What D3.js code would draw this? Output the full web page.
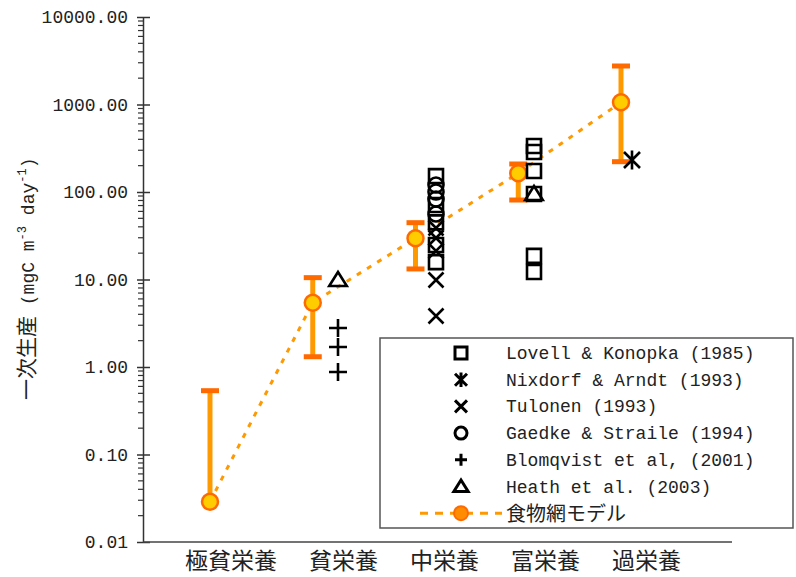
<!DOCTYPE html>
<html>
<head>
<meta charset="utf-8">
<script src="https://cdn.jsdelivr.net/npm/d3@7"></script>
<style>
  body { margin: 0; background: #fff; }
  text { font-family: "Liberation Mono", "Noto Sans CJK JP", monospace; fill: #222; }
</style>
</head>
<body>
<svg id="chart" width="796" height="577"></svg>
<script>
// Trophic categories along the x axis
const categories = ["極貧栄養", "貧栄養", "中栄養", "富栄養", "過栄養"];

// Y axis decades and their labels
const yTicks = [0.01, 0.1, 1, 10, 100, 1000, 10000];
const yTickLabels = ["0.01", "0.10", "1.00", "10.00", "100.00", "1000.00", "10000.00"];

// Food-web model: central estimate and error range per category
const modelValue = [0.0289, 5.43, 29.6, 164, 1059];
const modelLow   = [null, 1.31, 13.2, 81, 222];
const modelHigh  = [0.536, 10.5, 44.6, 209, 2754];

// Observed primary production from the literature: [category, value]
const lovell = [
  ["中栄養", 152], ["中栄養", 71], ["中栄養", 45], ["中栄養", 24.8], ["中栄養", 15.8],
  ["富栄養", 336], ["富栄養", 286], ["富栄養", 174], ["富栄養", 95], ["富栄養", 18.6], ["富栄養", 12.2]
];
const nixdorf = [["過栄養", 232]];
const tulonen = [["中栄養", 38.8], ["中栄養", 29.8], ["中栄養", 21.2], ["中栄養", 9.87], ["中栄養", 3.83]];
const gaedke = [["中栄養", 120], ["中栄養", 100], ["中栄養", 83], ["中栄養", 56]];
const blomqvist = [["貧栄養", 2.79], ["貧栄養", 1.69], ["貧栄養", 0.877]];
const heath = [["貧栄養", 9.87], ["富栄養", 95]];

const legendLabels = [
  "Lovell & Konopka (1985)",
  "Nixdorf & Arndt (1993)",
  "Tulonen (1993)",
  "Gaedke & Straile (1994)",
  "Blomqvist et al, (2001)",
  "Heath et al. (2003)",
  "食物網モデル"
];

const svg = d3.select("#chart");

const y = d3.scaleLog().domain([0.01, 10000]).range([542, 17]);
const xModel = d3.scalePoint().domain(categories).range([210, 621]);
const xObs = d3.scalePoint().domain(categories).range([240, 632]);
const xLabel = d3.scalePoint().domain(categories).range([277, 681]);
const axisX = 143;

// Marker shapes as path strings, s = half size
const shapes = {
  square: s => `M${-s},${-s}H${s}V${s}H${-s}Z`,
  times: s => `M${-s},${-s}L${s},${s}M${-s},${s}L${s},${-s}`,
  asterisk: s => `M${-s},${-s}L${s},${s}M${-s},${s}L${s},${-s}M0,${-s * 1.2}V${s * 1.2}`,
  plus: s => `M${-s},0H${s}M0,${-s}V${s}`,
  circle: s => { const p = d3.path(); p.arc(0, 0, s, 0, 2 * Math.PI); p.closePath(); return p.toString(); },
  triangle: s => `M0,${-s}L${s * 1.1},${s * 0.75}H${-s * 1.1}Z`
};

// ---- Y axis ----
const yAxis = svg.append("g").attr("transform", `translate(${axisX},0)`);
yAxis.call(d3.axisLeft(y).tickValues(yTicks).tickFormat((d, i) => yTickLabels[i])
  .tickSizeInner(6).tickSizeOuter(0).tickPadding(9));
yAxis.select(".domain").attr("stroke", "#333").attr("stroke-width", 1.5);
yAxis.selectAll(".tick line").attr("stroke", "#333").attr("stroke-width", 1.5);
yAxis.selectAll(".tick text").attr("font-size", 18)
  .style("font-family", '"Liberation Mono", monospace').attr("fill", "#222");
// major ticks also extend inward
yAxis.selectAll(".tick").append("line")
  .attr("x1", 0).attr("x2", 7).attr("stroke", "#333").attr("stroke-width", 1.5);

// minor ticks
const minor = [];
for (let e = -2; e < 4; e++) for (let m = 2; m <= 9; m++) minor.push(m * Math.pow(10, e));
svg.append("g").selectAll("line").data(minor).join("line")
  .attr("x1", axisX - 5).attr("x2", axisX)
  .attr("y1", d => y(d)).attr("y2", d => y(d))
  .attr("stroke", "#333").attr("stroke-width", 1.2);

// ---- X axis ----
svg.append("line")
  .attr("x1", axisX).attr("x2", 732)
  .attr("y1", y(0.01)).attr("y2", y(0.01))
  .attr("stroke", "#444").attr("stroke-width", 1.5);
svg.append("g").selectAll("text").data(categories).join("text")
  .attr("x", d => xLabel(d)).attr("y", 569)
  .attr("text-anchor", "end")
  .attr("font-size", 23)
  .style("font-family", '"Noto Sans CJK JP", sans-serif')
  .text(d => d);

// ---- Y axis title ----
const title = svg.append("text")
  .attr("transform", "translate(34,400) rotate(-90)")
  .attr("text-anchor", "start");
title.append("tspan").attr("font-size", 21).style("font-family", '"Noto Sans CJK JP", sans-serif').text("一次生産");
title.append("tspan").attr("font-size", 18).text(" (mgC m");
title.append("tspan").attr("font-size", 12).attr("dy", -8).text("-3");
title.append("tspan").attr("font-size", 18).attr("dy", 8).text(" day");
title.append("tspan").attr("font-size", 12).attr("dy", -8).text("-1");
title.append("tspan").attr("font-size", 18).attr("dy", 8).text(")");

// ---- Food-web model ----
const modelG = svg.append("g");
const line = d3.line().x((d, i) => xModel(categories[i])).y(d => y(d));
modelG.append("path").datum(modelValue)
  .attr("d", line).attr("fill", "none")
  .attr("stroke", "#FF9900").attr("stroke-width", 3).attr("stroke-dasharray", "5,7");

categories.forEach((c, i) => {
  const x = xModel(c);
  const lo = modelLow[i] == null ? modelValue[i] : modelLow[i];
  modelG.append("line").attr("x1", x).attr("x2", x)
    .attr("y1", y(lo)).attr("y2", y(modelHigh[i]))
    .attr("stroke", "#FF9900").attr("stroke-width", 5);
  modelG.append("line").attr("x1", x - 9).attr("x2", x + 9)
    .attr("y1", y(modelHigh[i])).attr("y2", y(modelHigh[i]))
    .attr("stroke", "#FF6A00").attr("stroke-width", 5);
  if (modelLow[i] != null) {
    modelG.append("line").attr("x1", x - 9).attr("x2", x + 9)
      .attr("y1", y(modelLow[i])).attr("y2", y(modelLow[i]))
      .attr("stroke", "#FF6A00").attr("stroke-width", 5);
  }
});
modelG.selectAll("circle").data(modelValue).join("circle")
  .attr("cx", (d, i) => xModel(categories[i])).attr("cy", d => y(d))
  .attr("r", 8).attr("fill", "#FFCC00").attr("stroke", "#FF6A00").attr("stroke-width", 2.5);

// ---- Observations ----
const obsSeries = [
  { data: lovell, shape: "square", size: 7 },
  { data: nixdorf, shape: "asterisk", size: 8 },
  { data: tulonen, shape: "times", size: 7.5 },
  { data: gaedke, shape: "circle", size: 7.5 },
  { data: blomqvist, shape: "plus", size: 9 },
  { data: heath, shape: "triangle", size: 8 }
];
obsSeries.forEach(s => {
  svg.append("g").selectAll("path").data(s.data).join("path")
    .attr("transform", d => `translate(${xObs(d[0])},${y(d[1])})`)
    .attr("d", shapes[s.shape](s.size))
    .attr("fill", "none").attr("stroke", "#000").attr("stroke-width", 2.6);
});

// ---- Legend ----
const lg = svg.append("g");
lg.append("rect").attr("x", 380).attr("y", 338).attr("width", 413).attr("height", 190)
  .attr("fill", "#fff").attr("stroke", "#555").attr("stroke-width", 1.5);
const rowY = i => 353 + i * 26.7;
const legendShapes = ["square", "asterisk", "times", "circle", "plus", "triangle"];
legendShapes.forEach((sh, i) => {
  lg.append("path").attr("transform", `translate(461,${rowY(i)})`)
    .attr("d", shapes[sh](sh === "triangle" ? 6.5 : 6))
    .attr("fill", "none").attr("stroke", "#000").attr("stroke-width", 3);
});
lg.append("line").attr("x1", 420).attr("x2", 502).attr("y1", rowY(6)).attr("y2", rowY(6))
  .attr("stroke", "#FF9900").attr("stroke-width", 3).attr("stroke-dasharray", "8,7");
lg.append("circle").attr("cx", 461).attr("cy", rowY(6)).attr("r", 7)
  .attr("fill", "#FF8C00").attr("stroke", "#FF6A00").attr("stroke-width", 2);
lg.selectAll("text.lab").data(legendLabels).join("text")
  .attr("class", "lab")
  .attr("x", 506).attr("y", (d, i) => rowY(i) + (i === 6 ? 8 : 6))
  .attr("font-size", (d, i) => i === 6 ? 20 : 18)
  .style("font-family", (d, i) => i === 6 ? '"Noto Sans CJK JP", sans-serif' : '"Liberation Mono", monospace')
  .text(d => d);
</script>
</body>
</html>
